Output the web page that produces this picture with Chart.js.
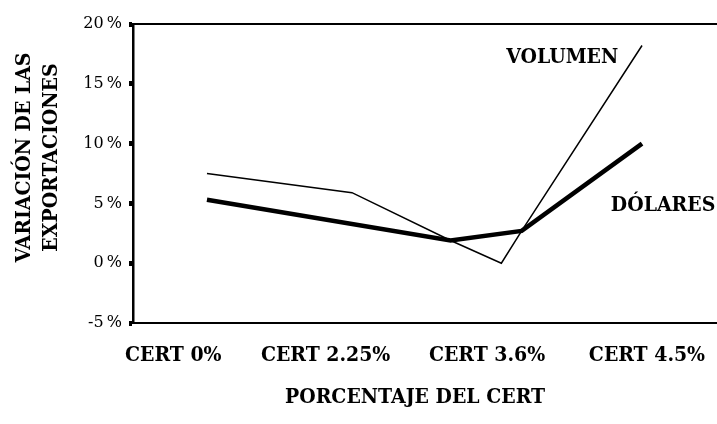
<!DOCTYPE html>
<html>
<head>
<meta charset="utf-8">
<script src="https://cdn.jsdelivr.net/npm/chart.js@4"></script>
<style>
  html, body { margin: 0; padding: 0; background: #fff; }
  #wrap { width: 717px; height: 424px; }
</style>
</head>
<body>
<div id="wrap"><canvas id="c" width="717" height="424"></canvas></div>
<script>
// ---- data ----
const categories = ['CERT 0%', 'CERT 2.25%', 'CERT 3.6%', 'CERT 4.5%'];
const categoryPos = [-0.232, 0.818, 1.931, 3.034];
const volumenX = [0, 1, 1.68, 2.03, 2.17, 3];
const volumenY = [7.5, 5.9, 1.9, 0.0, 2.7, 18.2];
const dolaresX = [0, 1.68, 2.17, 3];
const dolaresY = [5.3, 1.9, 2.7, 10.0];
const yTicks = [-5, 0, 5, 10, 15, 20];
const seriesNames = ['VOLUMEN', 'DÓLARES'];
const yTitle = ['VARIACIÓN DE LAS', 'EXPORTACIONES'];
const xTitle = 'PORCENTAJE DEL CERT';

const BOLD = 'DejaVu Serif Condensed, DejaVu Serif, serif';
const REG = 'DejaVu Serif, serif';

const labelPlugin = {
  id: 'extras',
  afterDraw(chart, args, opts) {
    const ctx = chart.ctx;
    const ca = chart.chartArea;
    const xs = chart.scales.x, ys = chart.scales.y;
    ctx.save();
    // top border
    ctx.strokeStyle = '#000';
    ctx.lineWidth = 2;
    ctx.beginPath();
    ctx.moveTo(ca.left, ca.top);
    ctx.lineTo(ca.right, ca.top);
    ctx.stroke();
    // series labels
    ctx.fillStyle = '#000';
    ctx.font = 'bold 21px ' + BOLD;
    ctx.textAlign = 'center';
    ctx.textBaseline = 'middle';
    opts.labels.forEach(l => {
      ctx.fillText(l.text, xs.getPixelForValue(l.x), ys.getPixelForValue(l.y));
    });
    // x title
    ctx.fillText(opts.xTitle, (ca.left + ca.right) / 2 + opts.xTitleShift, ca.bottom + opts.xTitleOffset);
    // y title
    ctx.translate(opts.yTitleX, (ca.top + ca.bottom) / 2 + opts.yTitleShift);
    ctx.rotate(-Math.PI / 2);
    opts.yTitle.forEach((t, i) => {
      ctx.fillText(t, 0, i * opts.yTitleLine);
    });
    ctx.restore();
  }
};

new Chart(document.getElementById('c'), {
  type: 'line',
  data: {
    datasets: [
      {
        label: seriesNames[0],
        data: volumenX.map((x, i) => ({ x: x, y: volumenY[i] })),
        borderColor: '#000',
        borderWidth: 1.5,
        pointRadius: 0,
        tension: 0,
        fill: false
      },
      {
        label: seriesNames[1],
        data: dolaresX.map((x, i) => ({ x: x, y: dolaresY[i] })),
        borderColor: '#000',
        borderWidth: 4.5,
        pointRadius: 0,
        tension: 0,
        fill: false
      }
    ]
  },
  options: {
    responsive: false,
    animation: false,
    layout: { padding: { top: 24, right: 0, left: 0, bottom: 0 } },
    plugins: {
      legend: { display: false },
      tooltip: { enabled: false },
      extras: {
        labels: [
          { text: seriesNames[0], x: 2.45, y: 17.2 },
          { text: seriesNames[1], x: 3.145, y: 4.84 }
        ],
        xTitle: xTitle,
        xTitleShift: -10,
        xTitleOffset: 75,
        yTitle: yTitle,
        yTitleX: 25,
        yTitleShift: -16,
        yTitleLine: 27
      }
    },
    scales: {
      x: {
        type: 'linear',
        min: -0.51,
        max: 3.517,
        afterBuildTicks: s => { s.ticks = categoryPos.map(v => ({ value: v })); },
        afterFit: s => { s.height = 101; s.paddingRight = 0; s.paddingLeft = 0; },
        grid: { display: false, drawTicks: false },
        border: { display: true, color: '#000', width: 2 },
        ticks: {
          color: '#000',
          padding: 20,
          maxRotation: 0,
          autoSkip: false,
          font: { family: BOLD, size: 21, weight: 'bold' },
          callback: (v, i) => categories[i]
        },
        title: { display: false }
      },
      y: {
        min: -5,
        max: 20,
        afterBuildTicks: s => { s.ticks = yTicks.map(v => ({ value: v })); },
        afterFit: s => { s.width = 133; },
        grid: {
          drawOnChartArea: false,
          drawTicks: true,
          tickLength: 4,
          tickWidth: 5,
          tickColor: '#000'
        },
        border: { display: true, color: '#000', width: 2.5 },
        ticks: {
          color: '#000',
          padding: 7,
          font: { family: REG, size: 16 },
          callback: v => v + '\u2009%'
        }
      }
    }
  },
  plugins: [labelPlugin]
});
</script>
</body>
</html>
